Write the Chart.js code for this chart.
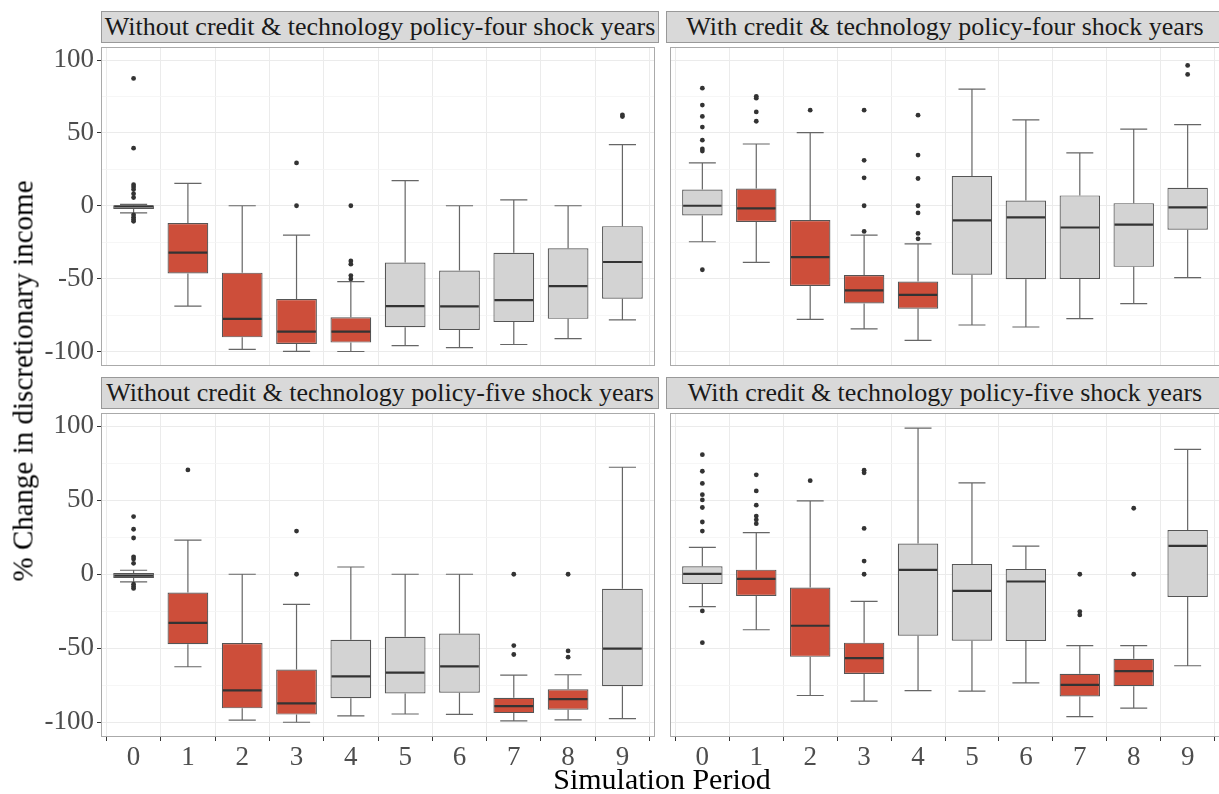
<!DOCTYPE html>
<html lang="en">
<head>
    <meta charset="UTF-8">
    <title>Discretionary income boxplots</title>
    <script src="https://cdn.jsdelivr.net/npm/chart.js"></script>
    <style>
        body { margin: 0; width: 1219px; height: 794px; overflow: hidden; background: #fff; font-family: "Liberation Serif", "Times New Roman", serif; position: relative; }
        canvas { position: absolute; }
        .strip { position: absolute; box-sizing: border-box; height: 32px; background: #d9d9d9; border: 1px solid #999; color: #1a1a1a; font-family: "Liberation Serif", serif; font-size: 26px; line-height: 29px; text-align: center; white-space: nowrap; }
        .ytitle { position: absolute; left: 23px; top: 381px; transform: translate(-50%, -50%) rotate(-90deg); font-family: "Liberation Serif", serif; font-size: 29px; white-space: nowrap; color: #000; }
        .xtitle { position: absolute; left: 662px; top: 779px; transform: translate(-50%, -50%); font-family: "Liberation Serif", serif; font-size: 30px; white-space: nowrap; color: #000; }
    </style>
</head>
<body>
    <div class="strip" style="left:101px;top:11px;width:558px">Without credit &amp; technology policy-four shock years</div>
    <div class="strip" style="left:666px;top:11px;width:558px">With credit &amp; technology policy-four shock years</div>
    <div class="strip" style="left:101px;top:377px;width:558px">Without credit &amp; technology policy-five shock years</div>
    <div class="strip" style="left:666px;top:377px;width:558px">With credit &amp; technology policy-five shock years</div>

    <canvas id="p1" width="659" height="327" style="left:0;top:43px"></canvas>
    <canvas id="p2" width="558" height="327" style="left:666px;top:43px"></canvas>
    <canvas id="p3" width="659" height="370" style="left:0;top:409px"></canvas>
    <canvas id="p4" width="558" height="370" style="left:666px;top:409px"></canvas>

    <div class="ytitle">% Change in discretionary income</div>
    <div class="xtitle">Simulation Period</div>

    <script>
        const periods = [0, 1, 2, 3, 4, 5, 6, 7, 8, 9];
        const yTicks = [-100, -75, -50, -25, 0, 25, 50, 75, 100];

        // without credit & technology, four shock years
        const woFourLow  = [-4.9, -68.9, -98.6, -99.9, -100, -95.9, -97.4, -95.2, -91.2, -78.3];
        const woFourQ1   = [-2.2, -46.4, -90.3, -94.8, -93.9, -83.4, -85.2, -79.8, -77.6, -63.8];
        const woFourMed  = [-0.5, -32.1, -77.6, -86.3, -86.3, -68.9, -69.1, -64.7, -55.1, -38.6];
        const woFourQ3   = [0.4, -11.8, -45.9, -64.0, -76.5, -39.0, -44.4, -32.3, -29.2, -14.0];
        const woFourHigh = [1.0, 15.4, 0, -20.1, -52.0, 17.2, 0, 4.0, 0, 41.9];
        const woFourOut  = [[87.4, 39.5, 14.5, 12.9, 11.1, 8.2, 5.6, -6.2, -7.8, -9.4, -10.7], [], [], [29.4, 0], [0, -37.9, -40.1, -47.9, -50.2], [], [], [], [], [61.2, 62.4]];
        const woFourShock = [1, 2, 3, 4];

        // with credit & technology, four shock years
        const wFourLow  = [-24.7, -38.8, -78.0, -84.5, -92.3, -81.8, -83.2, -77.4, -67.1, -49.3];
        const wFourQ1   = [-6.7, -11.1, -55.1, -67.1, -70.7, -47.3, -50.4, -50.2, -41.9, -16.5];
        const wFourMed  = [0, -1.8, -35.2, -58.0, -61.1, -10.0, -8.0, -14.9, -12.9, -1.1];
        const wFourQ3   = [11.1, 11.8, -9.8, -47.5, -52.0, 20.5, 3.6, 7.1, 1.8, 12.3];
        const wFourHigh = [29.4, 42.4, 50.2, -20.1, -26.1, 80.0, 58.9, 36.3, 52.6, 55.7];
        const wFourOut  = [[80.7, 69.1, 61.3, 54.0, 45.0, 39.0, 37.5, -43.9], [75.1, 73.8, 64.4, 58.0], [65.6], [65.6, 31.2, 19.2, 0, -17.6], [62.2, 34.8, 18.7, 0, -4.9, -19.0, -22.7], [], [], [], [], [96.3, 90.1]];
        const wFourShock = [1, 2, 3, 4];

        // without credit & technology, five shock years
        const woFiveLow  = [-5.1, -62.5, -98.6, -100, -95.7, -94.4, -94.6, -99.1, -98.4, -97.5];
        const woFiveQ1   = [-2.5, -47.3, -90.6, -94.8, -83.7, -80.6, -80.1, -93.8, -91.5, -75.7];
        const woFiveMed  = [-0.9, -32.8, -78.5, -87.2, -69.0, -66.5, -62.3, -89.1, -84.4, -50.2];
        const woFiveQ3   = [0.9, -12.3, -46.4, -64.3, -44.2, -42.2, -40.0, -83.5, -77.7, -9.8];
        const woFiveHigh = [2.7, 23.0, 0, -20.3, 4.9, 0, 0, -68.1, -67.9, 72.3];
        const woFiveOut  = [[39.0, 30.4, 24.5, 11.8, 10.3, 7.4, -6.7, -8.3, -9.6], [70.5], [], [29.2, 0], [], [], [], [0, -48.2, -54.2], [0, -51.8, -56.0], []];
        const woFiveShock = [1, 2, 3, 7, 8];

        // with credit & technology, five shock years
        const wFiveLow  = [-21.9, -37.5, -81.9, -85.7, -78.6, -79.0, -73.4, -96.2, -90.4, -61.8];
        const wFiveQ1   = [-6.5, -14.7, -55.8, -67.4, -41.5, -44.9, -45.1, -82.6, -75.7, -15.4];
        const wFiveMed  = [0.2, -3.1, -34.8, -56.7, 2.9, -11.2, -4.9, -74.8, -65.4, 19.2];
        const wFiveQ3   = [5.4, 3.1, -8.9, -46.2, 20.8, 6.9, 3.6, -67.2, -57.1, 29.9];
        const wFiveHigh = [18.1, 28.1, 49.6, -18.3, 98.7, 61.8, 19.0, -48.2, -48.2, 84.4];
        const wFiveOut  = [[80.8, 69.6, 61.4, 53.8, 50.2, 45.1, 35.3, 29.2, -24.8, -46.2], [67.2, 56.3, 46.7, 39.3, 36.8, 34.2], [63.2], [70.3, 68.5, 31.0, 8.9, 0], [], [], [], [0, -25.2, -27.5], [44.6, 0], []];
        const wFiveShock = [1, 2, 3, 7, 8];

        const shockColor = '#cd4e3a';
        const normalColor = '#d3d3d3';
        const serif = '"Liberation Serif", serif';

        // whiskers under the boxes, medians and panel border on top
        const boxPlugin = {
            id: 'boxParts',
            beforeDatasetsDraw(chart) {
                const p = chart.options.plugins.boxParts;
                const xs = chart.scales.x, ys = chart.scales.y;
                const ctx = chart.ctx;
                ctx.save();
                ctx.strokeStyle = '#666';
                ctx.lineWidth = 1.2;
                periods.forEach((per, i) => {
                    const cx = xs.getPixelForValue(per);
                    const half = xs.getPixelForValue(per + 0.25) - cx;
                    const yl = ys.getPixelForValue(p.low[i]);
                    const yh = ys.getPixelForValue(p.high[i]);
                    ctx.beginPath();
                    ctx.moveTo(cx, yl); ctx.lineTo(cx, ys.getPixelForValue(p.q1[i]));
                    ctx.moveTo(cx, yh); ctx.lineTo(cx, ys.getPixelForValue(p.q3[i]));
                    ctx.moveTo(cx - half, yl); ctx.lineTo(cx + half, yl);
                    ctx.moveTo(cx - half, yh); ctx.lineTo(cx + half, yh);
                    ctx.stroke();
                });
                ctx.restore();
            },
            afterDatasetsDraw(chart) {
                const p = chart.options.plugins.boxParts;
                const xs = chart.scales.x, ys = chart.scales.y;
                const ctx = chart.ctx;
                ctx.save();
                ctx.strokeStyle = '#333';
                ctx.lineWidth = 2.2;
                periods.forEach((per, i) => {
                    const cx = xs.getPixelForValue(per);
                    const half = xs.getPixelForValue(per + 0.375) - cx;
                    const ym = ys.getPixelForValue(p.med[i]);
                    ctx.beginPath();
                    ctx.moveTo(cx - half + 1, ym); ctx.lineTo(cx + half - 1, ym);
                    ctx.stroke();
                });
                const a = chart.chartArea;
                ctx.strokeStyle = '#aaa';
                ctx.lineWidth = 1;
                ctx.strokeRect(a.left + 0.5, a.top + 0.5, a.width - 1, a.height - 1);
                ctx.restore();
            }
        };

        const makePanel = (id, low, q1, med, q3, high, outs, shock, showY, showX) => {
            const boxes = periods.map((per, i) => ({ x: per, y: [q1[i], q3[i]] }));
            const points = [];
            outs.forEach((list, i) => list.forEach(v => points.push({ x: periods[i], y: v })));
            const fills = periods.map(per => shock.includes(per) ? shockColor : normalColor);

            new Chart(document.getElementById(id), {
                type: 'bar',
                data: {
                    datasets: [
                        {
                            data: boxes,
                            backgroundColor: fills,
                            borderColor: '#555',
                            borderWidth: 1.2,
                            borderSkipped: false,
                            barPercentage: 0.75,
                            categoryPercentage: 1
                        },
                        {
                            type: 'scatter',
                            data: points,
                            pointRadius: 2.4,
                            pointBackgroundColor: '#333',
                            pointBorderWidth: 0
                        }
                    ]
                },
                plugins: [boxPlugin],
                options: {
                    responsive: false,
                    animation: false,
                    events: [],
                    layout: { padding: 0 },
                    plugins: {
                        legend: { display: false },
                        tooltip: { enabled: false },
                        boxParts: { low, q1, med, q3, high }
                    },
                    scales: {
                        x: {
                            type: 'linear',
                            min: -0.6,
                            max: 9.6,
                            offset: false,
                            afterBuildTicks: scale => { scale.ticks = periods.map(v => ({ value: v })); },
                            afterFit: scale => {
                                scale.height = showX ? 42 : 0;
                                scale.paddingLeft = 0;
                                scale.paddingRight = 0;
                            },
                            border: { display: false },
                            grid: { color: '#ebebeb', lineWidth: 1, drawTicks: showX, tickLength: 4, tickColor: '#333' },
                            ticks: {
                                display: showX,
                                padding: 1,
                                color: '#4d4d4d',
                                font: { family: serif, size: 27 },
                                callback: v => String(v)
                            }
                        },
                        y: {
                            min: -109.95,
                            max: 108.95,
                            afterBuildTicks: scale => { scale.ticks = yTicks.map(v => ({ value: v })); },
                            afterFit: scale => {
                                scale.width = showY ? 101 : 0;
                                scale.paddingTop = 0;
                                scale.paddingBottom = 0;
                            },
                            border: { display: false },
                            grid: {
                                color: ctx => ctx.tick && ctx.tick.value % 50 === 0 ? '#ebebeb' : '#f4f4f4',
                                lineWidth: ctx => ctx.tick && ctx.tick.value % 50 === 0 ? 1 : 0.8,
                                drawTicks: showY,
                                tickLength: 4,
                                tickColor: ctx => ctx.tick && ctx.tick.value % 50 === 0 ? '#333' : 'rgba(0,0,0,0)'
                            },
                            ticks: {
                                display: showY,
                                padding: 3,
                                color: '#4d4d4d',
                                font: { family: serif, size: 27 },
                                callback: v => v % 50 === 0 ? String(v) : ''
                            }
                        }
                    }
                }
            });
        };

        const drawAll = () => {
            makePanel('p1', woFourLow, woFourQ1, woFourMed, woFourQ3, woFourHigh, woFourOut, woFourShock, true, false);
            makePanel('p2', wFourLow, wFourQ1, wFourMed, wFourQ3, wFourHigh, wFourOut, wFourShock, false, false);
            makePanel('p3', woFiveLow, woFiveQ1, woFiveMed, woFiveQ3, woFiveHigh, woFiveOut, woFiveShock, true, true);
            makePanel('p4', wFiveLow, wFiveQ1, wFiveMed, wFiveQ3, wFiveHigh, wFiveOut, wFiveShock, false, true);
        };

        // make sure the serif face is ready before the canvases draw text
        document.fonts.load('27px "Liberation Serif"').then(drawAll, drawAll);
    </script>
</body>
</html>
